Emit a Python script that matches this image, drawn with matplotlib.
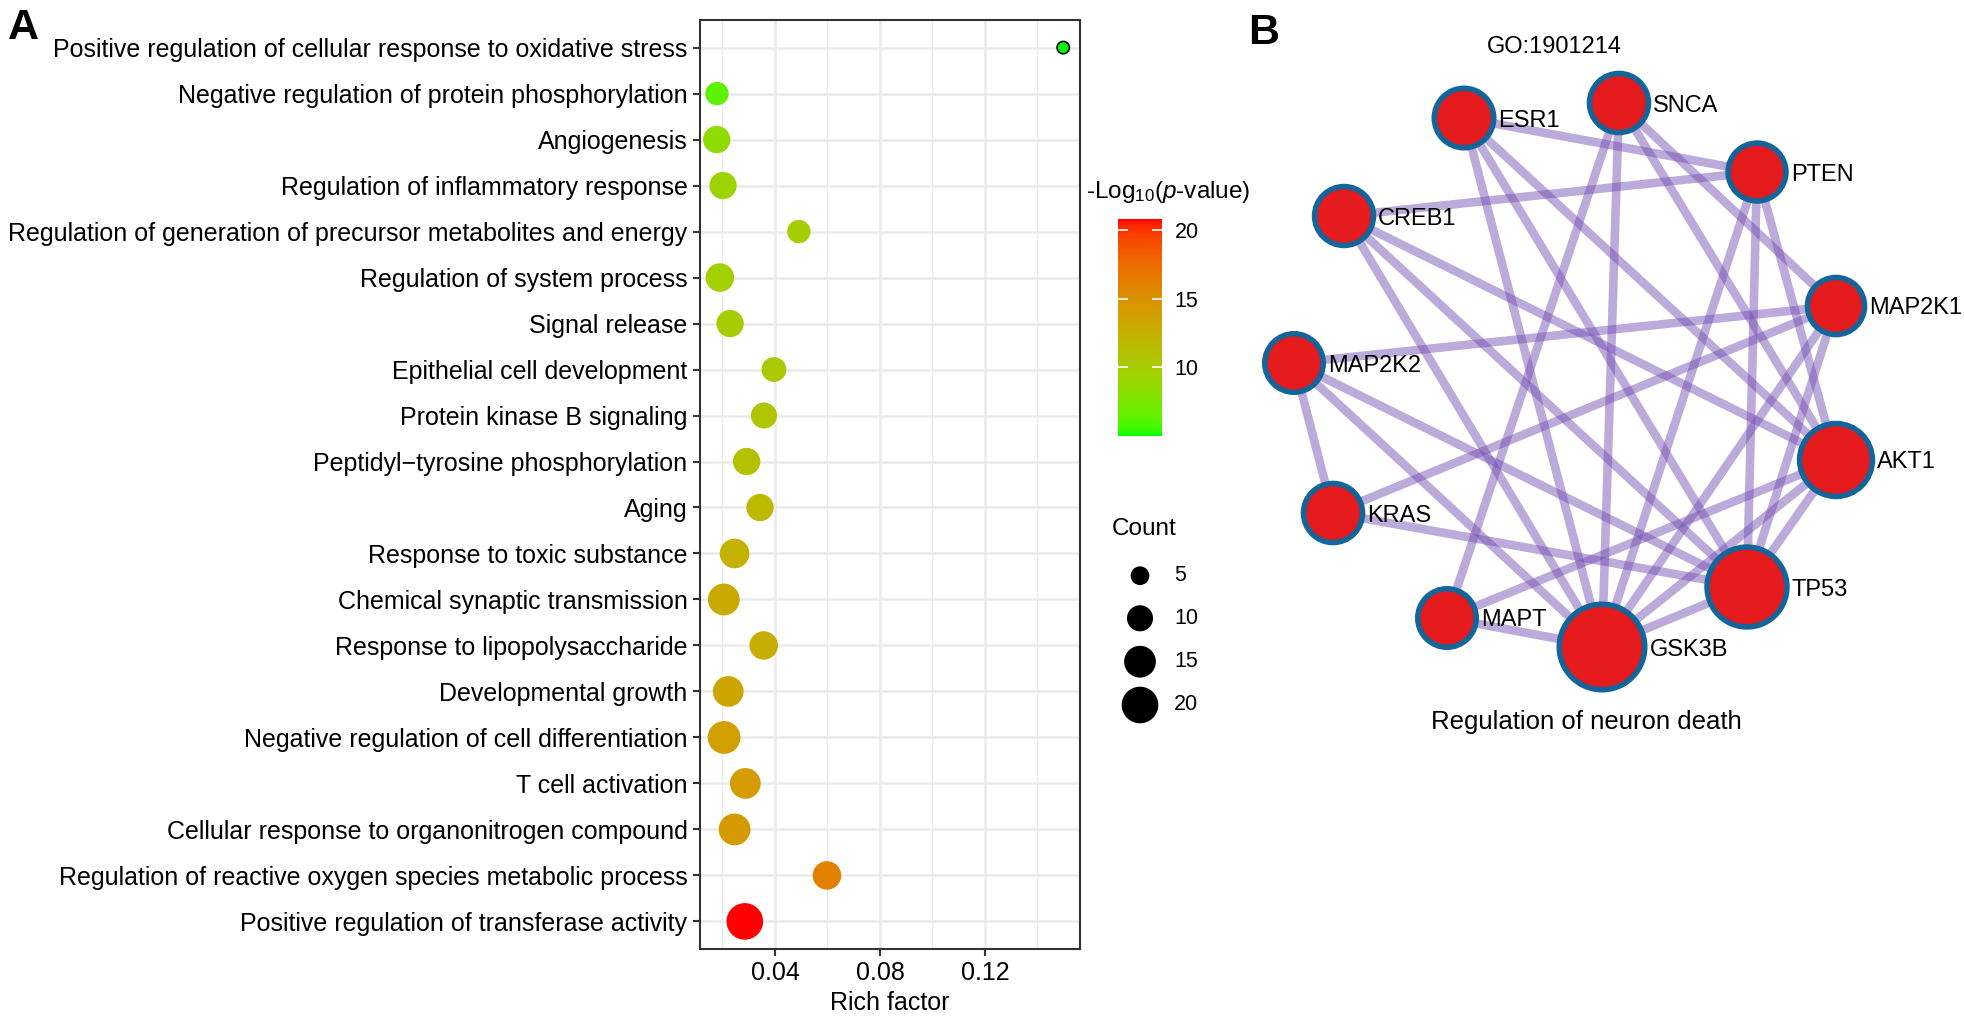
import numpy as np
import matplotlib
matplotlib.use("Agg")
import matplotlib.pyplot as plt
from matplotlib.colors import LinearSegmentedColormap, Normalize
from matplotlib.patches import Circle

plt.rcParams['font.family'] = ['Liberation Sans', 'DejaVu Sans']
plt.rcParams['mathtext.fontset'] = 'custom'
plt.rcParams['mathtext.rm'] = 'Liberation Sans'
plt.rcParams['mathtext.it'] = 'Liberation Sans:italic'
plt.rcParams['mathtext.bf'] = 'Liberation Sans:bold'

# ---- panel A data (top to bottom) ----
terms = [
    "Positive regulation of cellular response to oxidative stress",
    "Negative regulation of protein phosphorylation",
    "Angiogenesis",
    "Regulation of inflammatory response",
    "Regulation of generation of precursor metabolites and energy",
    "Regulation of system process",
    "Signal release",
    "Epithelial cell development",
    "Protein kinase B signaling",
    "Peptidyl\u2212tyrosine phosphorylation",
    "Aging",
    "Response to toxic substance",
    "Chemical synaptic transmission",
    "Response to lipopolysaccharide",
    "Developmental growth",
    "Negative regulation of cell differentiation",
    "T cell activation",
    "Cellular response to organonitrogen compound",
    "Regulation of reactive oxygen species metabolic process",
    "Positive regulation of transferase activity",
]
rich_factor = [0.1498, 0.0179, 0.0178, 0.0202, 0.0491, 0.0190, 0.0229, 0.0396, 0.0358, 0.0292,
               0.0343, 0.0246, 0.0205, 0.0357, 0.0222, 0.0206, 0.0287, 0.0246, 0.0598, 0.0285]
counts = [2, 8, 11, 11, 8, 12, 11, 9, 10, 11, 11, 13, 15, 12, 14, 16, 14, 15, 12, 20]
neg_log_p = [5.0, 6.3, 8.5, 9.3, 9.7, 9.6, 9.9, 10.3, 10.7, 11.0,
             11.8, 12.3, 13.0, 12.7, 13.4, 13.9, 14.2, 14.3, 16.2, 20.8]
size_breaks = [5, 10, 15, 20]
color_breaks = [10, 15, 20]
x_ticks = [0.04, 0.08, 0.12]

# ---- panel B data ----
genes = ["ESR1", "SNCA", "PTEN", "MAP2K1", "AKT1", "TP53", "GSK3B", "MAPT", "KRAS", "MAP2K2", "CREB1"]
node_x = [1464, 1619, 1757, 1836, 1836, 1747, 1602, 1447, 1333, 1294, 1344]
node_y = [118, 103, 172, 306, 460, 587, 647, 618, 513, 363, 216]
node_r = [32.5, 32.3, 31.7, 31.3, 39.2, 42.7, 45.5, 32.0, 32.3, 32.0, 32.2]
edges = [
    ("ESR1", "PTEN"), ("ESR1", "GSK3B"), ("ESR1", "TP53"), ("ESR1", "AKT1"),
    ("SNCA", "GSK3B"), ("SNCA", "MAPT"), ("SNCA", "MAP2K1"), ("SNCA", "AKT1"),
    ("PTEN", "CREB1"), ("PTEN", "GSK3B"), ("PTEN", "TP53"), ("PTEN", "AKT1"),
    ("MAP2K1", "MAP2K2"), ("MAP2K1", "KRAS"), ("MAP2K1", "GSK3B"), ("MAP2K1", "TP53"),
    ("AKT1", "CREB1"), ("AKT1", "GSK3B"), ("AKT1", "TP53"), ("AKT1", "MAPT"),
    ("CREB1", "GSK3B"), ("CREB1", "TP53"),
    ("MAP2K2", "KRAS"), ("MAP2K2", "GSK3B"), ("MAP2K2", "TP53"),
    ("KRAS", "TP53"), ("MAPT", "GSK3B"), ("GSK3B", "TP53"),
]


def srgb_to_lab(rgb):
    c = np.asarray(rgb, float)
    lin = np.where(c <= 0.04045, c / 12.92, ((c + 0.055) / 1.055) ** 2.4)
    M = np.array([[0.4124, 0.3576, 0.1805], [0.2126, 0.7152, 0.0722], [0.0193, 0.1192, 0.9505]])
    xyz = M @ lin / np.array([0.95047, 1.0, 1.08883])
    f = np.where(xyz > 0.008856, np.cbrt(xyz), 7.787 * xyz + 16 / 116)
    return np.array([116 * f[1] - 16, 500 * (f[0] - f[1]), 200 * (f[1] - f[2])])


def lab_to_srgb(lab):
    L, a, b = lab
    fy = (L + 16) / 116
    f = np.array([fy + a / 500, fy, fy - b / 200])
    xyz = np.where(f > 0.2069, f ** 3, (f - 16 / 116) / 7.787) * np.array([0.95047, 1.0, 1.08883])
    Minv = np.array([[3.2406, -1.5372, -0.4986], [-0.9689, 1.8758, 0.0415], [0.0557, -0.2040, 1.0570]])
    lin = np.clip(Minv @ xyz, 0, 1)
    return np.where(lin <= 0.0031308, 12.92 * lin, 1.055 * lin ** (1 / 2.4) - 0.055).clip(0, 1)


# ggplot-like green -> red gradient, interpolated in Lab
lab_lo, lab_hi = srgb_to_lab([0, 1, 0]), srgb_to_lab([1, 0, 0])
grad = [lab_to_srgb(lab_lo + t * (lab_hi - lab_lo)) for t in np.linspace(0, 1, 256)]
cmap = LinearSegmentedColormap.from_list("green_red", grad)
norm = Normalize(vmin=min(neg_log_p), vmax=max(neg_log_p))

DPI = 100
W, H = 1965, 1019


def dot_size(c):
    d_px = np.sqrt(66 * np.asarray(c, float) + 20)
    return (d_px * 72 / DPI) ** 2


fig = plt.figure(figsize=(W / DPI, H / DPI), dpi=DPI)

# overlay in pixel coordinates for the network and legends
ov = fig.add_axes([0, 0, 1, 1])
ov.set_xlim(0, W)
ov.set_ylim(H, 0)
ov.axis('off')

# ---- panel A ----
ax = fig.add_axes([700 / W, 1 - 949 / H, 380 / W, 929 / H])
ypos = np.arange(len(terms))
edgec = ['black' if c == min(counts) else 'none' for c in counts]
ax.scatter(rich_factor, ypos, s=dot_size(counts), c=neg_log_p, cmap=cmap, norm=norm,
           edgecolors=edgec, linewidths=1.2, zorder=3)
ax.set_xlim(0.01143, 0.1562)
ax.set_ylim(len(terms) - 0.4, -0.6)
ax.set_yticks(ypos)
ax.set_yticklabels(terms)
ax.set_xticks(x_ticks)
ax.set_xticklabels([f"{v:.2f}" for v in x_ticks])
ax.set_xticks([0.02, 0.06, 0.10, 0.14], minor=True)
ax.grid(which='major', color='#EBEBEB', lw=1.8)
ax.grid(which='minor', axis='x', color='#EBEBEB', lw=0.9)
ax.set_axisbelow(True)
ax.tick_params(which='major', length=5, width=1.5, color='#333333', labelsize=18,
               labelcolor='black', pad=4)
ax.tick_params(which='minor', length=0)
for sp in ax.spines.values():
    sp.set_color('#333333')
    sp.set_linewidth(1.5)
ax.set_xlabel("Rich factor", fontsize=18, labelpad=4)

fig.text(8 / W, 1 - 8 / H, "A", fontsize=31, fontweight='bold', ha='left', va='top')
fig.text(1248 / W, 1 - 13 / H, "B", fontsize=31, fontweight='bold', ha='left', va='top')

# colour bar
cax = fig.add_axes([1118 / W, 1 - 436 / H, 44 / W, 217 / H])
sm = plt.cm.ScalarMappable(cmap=cmap, norm=norm)
cb = fig.colorbar(sm, cax=cax, ticks=color_breaks)
cb.outline.set_visible(False)
cax.tick_params(direction='in', length=7, width=1.2, color='white', left=True, right=True,
                labelleft=False, labelright=True, labelsize=15.5, pad=9)
ov.text(1086, 192, r'-Log$_{10}$($\mathit{p}$-value)', fontsize=17.5, ha='left', va='center')

# size legend
ov.text(1112, 529, "Count", fontsize=17.5, ha='left', va='center')
leg_y = [575.7, 618.3, 661.7, 705]
ov.scatter([1140] * len(size_breaks), leg_y, s=dot_size(size_breaks), color='black', lw=0)
for yy, v in zip(leg_y, size_breaks):
    ov.text(1174, yy, str(v), fontsize=15.5, ha='left', va='center')

# ---- panel B ----
idx = {g: i for i, g in enumerate(genes)}
for a, b in edges:
    ov.plot([node_x[idx[a]], node_x[idx[b]]], [node_y[idx[a]], node_y[idx[b]]],
            color=(0.45, 0.31, 0.70), alpha=0.48, lw=6.2, solid_capstyle='butt', zorder=1)
ring = 5.5
for g, cx, cy, r in zip(genes, node_x, node_y, node_r):
    ov.add_patch(Circle((cx, cy), r - ring / 2, facecolor='#E41A1C', edgecolor='#13659A',
                        lw=ring * 72 / DPI, zorder=2))
    ov.text(cx + r + 2, cy + 8.5, g, fontsize=17, ha='left', va='baseline', zorder=3)

ov.text(1554, 47, "GO:1901214", fontsize=17, ha='center', va='center')
ov.text(1586, 722, "Regulation of neuron death", fontsize=18.5, ha='center', va='center')

fig.savefig("out.png", dpi=DPI)
